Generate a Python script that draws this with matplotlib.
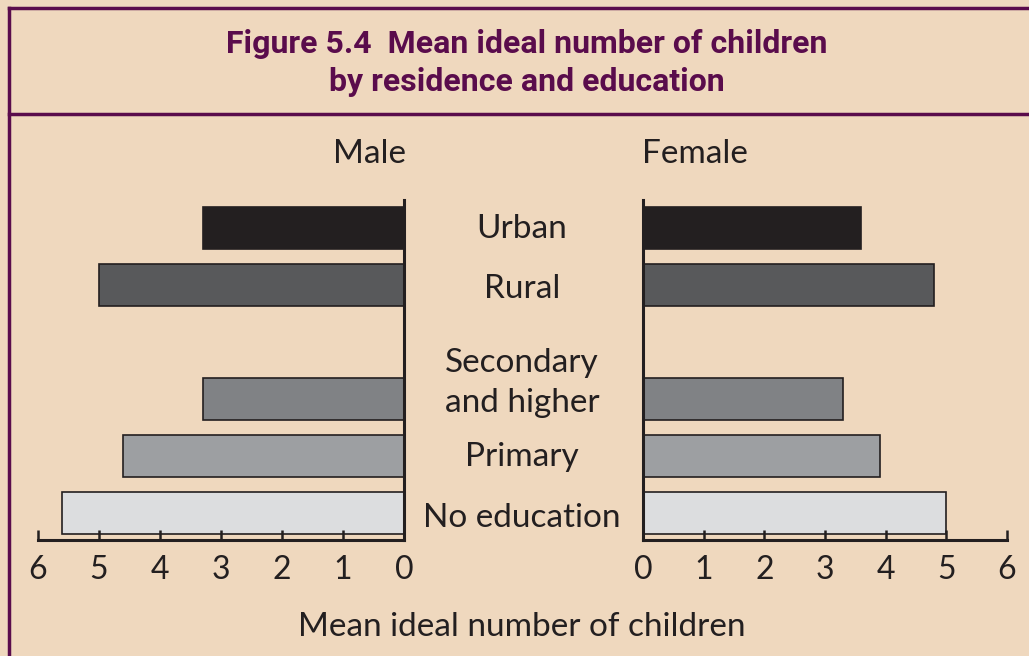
import numpy as np
import matplotlib.pyplot as plt
from matplotlib.lines import Line2D

categories = ["Urban", "Rural", "Secondary\nand higher", "Primary", "No education"]
positions = [0, 1, 3, 4, 5]
male = [3.3, 5.0, 3.3, 4.6, 5.6]
female = [3.6, 4.8, 3.3, 3.9, 5.0]
colors = ["#231f20", "#58595b", "#808285", "#9d9fa2", "#dcdddf"]
ticks = [0, 1, 2, 3, 4, 5, 6]

bg = "#efd8be"
purple = "#5a0c4c"
ink = "#231f20"
W, H = 1029, 656

plt.rcParams['font.family'] = ['Lato', 'DejaVu Sans']

fig = plt.figure(figsize=(W / 100, H / 100), dpi=100, facecolor=bg)


def box(x0, x1, y0, y1):
    return [x0 / W, 1 - y1 / H, (x1 - x0) / W, (y1 - y0) / H]


ax_m = fig.add_axes(box(38, 404, 200, 540))
ax_f = fig.add_axes(box(643, 1007, 200, 540))

for ax, vals in [(ax_m, male), (ax_f, female)]:
    ax.set_facecolor("none")
    ax.barh(positions, vals, height=0.73, color=colors, edgecolor=ink, linewidth=1.2)
    ax.set_ylim(5.47, -0.49)
    ax.set_yticks([])
    ax.set_xticks(ticks)
    ax.set_xticklabels([str(t) for t in ticks])
    ax.tick_params(axis="x", direction="in", length=7, width=1.8, color=ink,
                   pad=11, labelsize=23, labelcolor=ink)
    ax.spines["top"].set_visible(False)
    ax.spines["bottom"].set_linewidth(2.2)
    ax.spines["bottom"].set_color(ink)

ax_m.set_xlim(6, 0)
ax_m.spines["left"].set_visible(False)
ax_m.spines["right"].set_linewidth(2.2)
ax_m.spines["right"].set_color(ink)

ax_f.set_xlim(0, 6)
ax_f.spines["right"].set_visible(False)
ax_f.spines["left"].set_linewidth(2.2)
ax_f.spines["left"].set_color(ink)

# category labels between the two panels
label_y = [229, 289, 383, 457, 518]
for lab, y in zip(categories, label_y):
    fig.text(522 / W, 1 - y / H, lab, ha="center", va="center", fontsize=24,
             color=ink, linespacing=1.45)

fig.text(370 / W, 1 - 154 / H, "Male", ha="center", va="center", fontsize=24, color=ink)
fig.text(695 / W, 1 - 154 / H, "Female", ha="center", va="center", fontsize=24, color=ink)
fig.text(522 / W, 1 - 627 / H, "Mean ideal number of children", ha="center",
         va="center", fontsize=24, color=ink)

# title block
tfont = ['Roboto', 'DejaVu Sans']
fig.text(527 / W, 1 - 44 / H, "Figure 5.4  Mean ideal number of children",
         ha="center", va="center", fontsize=23, fontweight="bold", color=purple,
         family=tfont)
fig.text(527 / W, 1 - 82 / H, "by residence and education",
         ha="center", va="center", fontsize=23, fontweight="bold", color=purple,
         family=tfont)

# frame lines
fig.add_artist(Line2D([9 / W, 1], [1 - 8 / H, 1 - 8 / H], color=purple, lw=2.5))
fig.add_artist(Line2D([9 / W, 1], [1 - 114 / H, 1 - 114 / H], color=purple, lw=2.5))
fig.add_artist(Line2D([9 / W, 9 / W], [0, 1 - 8 / H], color=purple, lw=2.5))

fig.savefig("out.png", dpi=100, facecolor=bg)
